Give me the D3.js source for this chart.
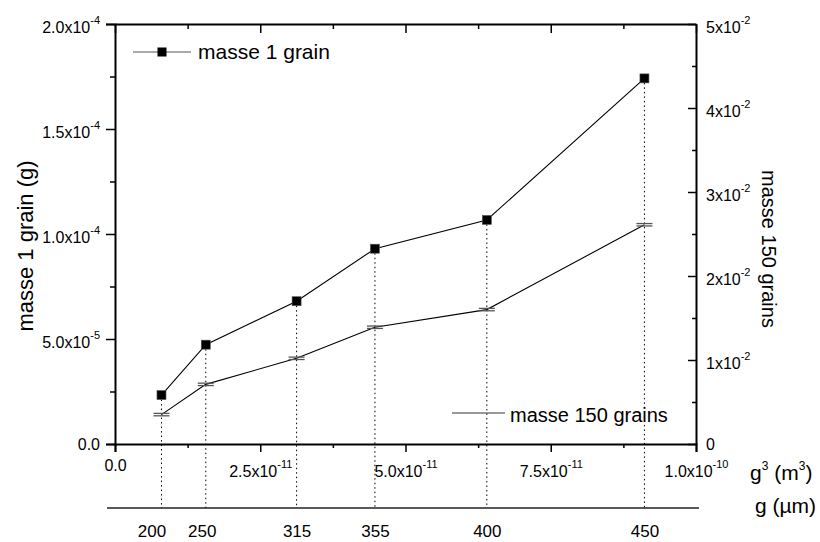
<!DOCTYPE html>
<html lang="fr">
<head>
  <meta charset="utf-8">
  <title>masse des grains</title>
  <script src="https://d3js.org/d3.v7.min.js"></script>
  <style>
    html, body { margin: 0; padding: 0; background: #fff; }
    svg { display: block; }
    text { font-family: Arial, "Liberation Sans", sans-serif; fill: #000; }
    .frame path.domain { stroke: #000; stroke-width: 2px; }
    .frame line { stroke: #000; stroke-width: 1.5px; }
  </style>
</head>
<body>
  <svg width="820" height="542"></svg>
  <script>
    // données
    const grainSizes = [200, 250, 315, 355, 400, 450];                                   // g (µm)
    const grainVolumes = [8.0e-12, 1.5625e-11, 3.1256e-11, 4.4739e-11, 6.4e-11, 9.1125e-11]; // g^3 (m^3)
    const masse1Grain = [2.33e-5, 4.73e-5, 6.80e-5, 9.30e-5, 1.067e-4, 1.741e-4];
    const masse150Grains = [3.5e-3, 7.1e-3, 1.02e-2, 1.39e-2, 1.60e-2, 2.61e-2];

    // graduations : [mantisse, exposant]
    const xTicks = [0, 2.5e-11, 5e-11, 7.5e-11, 1e-10];
    const xTickLabels = [["0.0", ""], ["2.5x10", "-11"], ["5.0x10", "-11"], ["7.5x10", "-11"], ["1.0x10", "-10"]];
    const yLeftTicks = [0, 5e-5, 1e-4, 1.5e-4, 2e-4];
    const yLeftTickLabels = [["0.0", ""], ["5.0x10", "-5"], ["1.0x10", "-4"], ["1.5x10", "-4"], ["2.0x10", "-4"]];
    const yRightTicks = [0, 1e-2, 2e-2, 3e-2, 4e-2, 5e-2];
    const yRightTickLabels = [["0", ""], ["1x10", "-2"], ["2x10", "-2"], ["3x10", "-2"], ["4x10", "-2"], ["5x10", "-2"]];

    const svg = d3.select("svg");
    const mLeft = 115, mRight = 696, mTop = 24, mBottom = 444;
    const gAxisY = 508;

    const x = d3.scaleLinear().domain([0, 1e-10]).range([mLeft, mRight]);
    const yL = d3.scaleLinear().domain([0, 2e-4]).range([mBottom, mTop]);
    const yR = d3.scaleLinear().domain([0, 5e-2]).range([mBottom, mTop]);

    const mids = arr => arr.slice(1).map((v, i) => (v + arr[i]) / 2);

    // écrit un label avec exposant
    function supLabel(sel, labels, shift, attr) {
      sel.each(function(d, i) {
        const t = d3.select(this).text(null);
        const [m, e] = labels[i];
        t.append("tspan").text(m);
        if (e) {
          t.append("tspan").attr("font-size", 11).attr("dy", -9).text(e);
          t.attr(attr, +t.attr(attr) + shift);
        }
      });
    }

    // pointillés verticaux
    svg.append("g")
      .selectAll("line")
      .data(grainVolumes)
      .join("line")
      .attr("x1", d => x(d)).attr("x2", d => x(d))
      .attr("y1", (d, i) => yL(masse1Grain[i])).attr("y2", gAxisY)
      .attr("stroke", "#000").attr("stroke-width", 1)
      .attr("stroke-dasharray", "1.5,3");

    // axe bas
    const gx = svg.append("g").attr("class", "frame")
      .attr("transform", `translate(0,${mBottom})`)
      .call(d3.axisBottom(x).tickValues(xTicks).tickSize(8).tickPadding(8));
    gx.selectAll("text").attr("font-size", 16).attr("font-family", null);
    supLabel(gx.selectAll(".tick text"), xTickLabels, 6, "y");
    svg.append("g").attr("class", "frame")
      .attr("transform", `translate(0,${mBottom})`)
      .call(d3.axisBottom(x).tickValues(mids(xTicks)).tickSize(4).tickFormat(""))
      .select(".domain").remove();

    // axe haut (graduations vers l'intérieur)
    svg.append("g").attr("class", "frame")
      .attr("transform", `translate(0,${mTop})`)
      .call(d3.axisTop(x).tickValues(xTicks).tickSizeInner(-9).tickSizeOuter(0).tickFormat(""));
    svg.append("g").attr("class", "frame")
      .attr("transform", `translate(0,${mTop})`)
      .call(d3.axisTop(x).tickValues(mids(xTicks)).tickSize(-5).tickFormat(""))
      .select(".domain").remove();

    // axe gauche
    const gyl = svg.append("g").attr("class", "frame")
      .attr("transform", `translate(${mLeft},0)`)
      .call(d3.axisLeft(yL).tickValues(yLeftTicks).tickSize(9).tickPadding(6));
    gyl.selectAll("text").attr("font-size", 16).attr("font-family", null);
    supLabel(gyl.selectAll(".tick text"), yLeftTickLabels, 3, "y");
    svg.append("g").attr("class", "frame")
      .attr("transform", `translate(${mLeft},0)`)
      .call(d3.axisLeft(yL).tickValues(mids(yLeftTicks)).tickSize(5).tickFormat(""))
      .select(".domain").remove();

    // axe droit (graduations vers l'intérieur)
    const gyr = svg.append("g").attr("class", "frame")
      .attr("transform", `translate(${mRight},0)`)
      .call(d3.axisRight(yR).tickValues(yRightTicks).tickSizeInner(-8).tickSizeOuter(0).tickPadding(10));
    gyr.selectAll("text").attr("font-size", 16).attr("font-family", null);
    supLabel(gyr.selectAll(".tick text"), yRightTickLabels, 3, "y");
    svg.append("g").attr("class", "frame")
      .attr("transform", `translate(${mRight},0)`)
      .call(d3.axisRight(yR).tickValues(mids(yRightTicks)).tickSize(-4).tickFormat(""))
      .select(".domain").remove();

    // axe g (µm)
    const gg = svg.append("g")
      .attr("transform", `translate(0,${gAxisY})`)
      .call(d3.axisBottom(x).tickValues(grainVolumes).tickSize(0).tickPadding(17)
        .tickFormat((d, i) => grainSizes[i]));
    gg.select(".domain").remove();
    gg.selectAll("text").attr("font-size", 17).attr("font-family", null)
      .attr("dx", (d, i) => i === 0 ? -10 : i === 1 ? -4 : 0);
    svg.append("line")
      .attr("x1", x(0) - 8).attr("x2", x(1e-10) + 3)
      .attr("y1", gAxisY).attr("y2", gAxisY)
      .attr("stroke", "#222").attr("stroke-width", 1.5);

    // courbes
    const line1 = d3.line().x((d, i) => x(grainVolumes[i])).y(d => yL(d));
    const line150 = d3.line().x((d, i) => x(grainVolumes[i])).y(d => yR(d));
    svg.append("path").datum(masse1Grain).attr("d", line1)
      .attr("fill", "none").attr("stroke", "#000").attr("stroke-width", 1.1);
    svg.append("path").datum(masse150Grains).attr("d", line150)
      .attr("fill", "none").attr("stroke", "#000").attr("stroke-width", 1.1);

    // marqueurs carrés
    svg.append("g").selectAll("rect")
      .data(masse1Grain)
      .join("rect")
      .attr("x", (d, i) => x(grainVolumes[i]) - 4.5)
      .attr("y", d => yL(d) - 4.5)
      .attr("width", 9).attr("height", 9)
      .attr("fill", "#000").attr("stroke", "#555").attr("stroke-width", 0.6);

    // marqueurs barres (150 grains)
    const bars = svg.append("g").selectAll("g")
      .data(masse150Grains)
      .join("g")
      .attr("transform", (d, i) => `translate(${x(grainVolumes[i])},${yR(d)})`);
    [-1.2, 1.2].forEach(o => {
      bars.append("line")
        .attr("x1", -8).attr("x2", 8).attr("y1", o).attr("y2", o)
        .attr("stroke", "#555").attr("stroke-width", 1.3);
    });

    // légendes
    const leg1 = svg.append("g").attr("transform", "translate(133,52)");
    leg1.append("line").attr("x1", 0).attr("x2", 58)
      .attr("stroke", "#555").attr("stroke-width", 1);
    leg1.append("rect").attr("x", 24.5).attr("y", -4.5).attr("width", 9).attr("height", 9)
      .attr("fill", "#000");
    leg1.append("text").attr("x", 65).attr("y", 7).attr("font-size", 21).text("masse 1 grain");

    const leg2 = svg.append("g").attr("transform", "translate(452,413)");
    leg2.append("line").attr("x1", 0).attr("x2", 53)
      .attr("stroke", "#333").attr("stroke-width", 1);
    leg2.append("text").attr("x", 58).attr("y", 9).attr("font-size", 20).text("masse 150 grains");

    // titres des axes
    svg.append("text")
      .attr("transform", "translate(33,246) rotate(-90)")
      .attr("text-anchor", "middle").attr("font-size", 22)
      .text("masse 1 grain (g)");
    svg.append("text")
      .attr("transform", "translate(762,249) rotate(90)")
      .attr("text-anchor", "middle").attr("font-size", 20)
      .text("masse 150 grains");

    const t3 = svg.append("text").attr("x", 750).attr("y", 480).attr("font-size", 21);
    t3.append("tspan").text("g");
    t3.append("tspan").attr("font-size", 12).attr("dy", -10).text("3");
    t3.append("tspan").attr("dy", 10).text(" (m");
    t3.append("tspan").attr("font-size", 12).attr("dy", -10).text("3");
    t3.append("tspan").attr("dy", 10).text(")");

    svg.append("text").attr("x", 755).attr("y", 513).attr("font-size", 21).text("g (µm)");
  </script>
</body>
</html>
